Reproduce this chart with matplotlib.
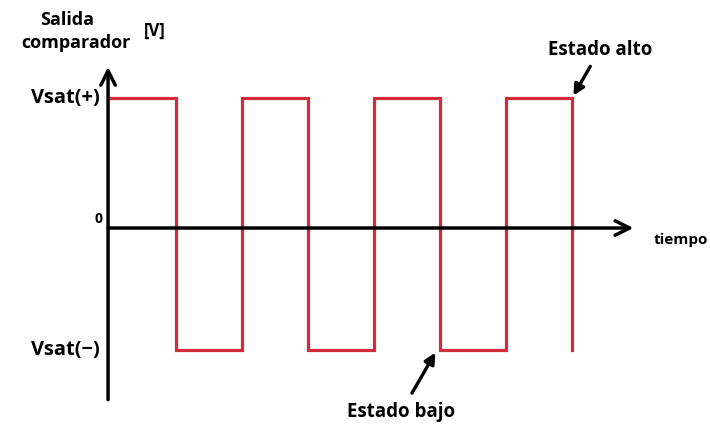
import matplotlib.pyplot as plt

# square wave of the comparator output (time in half-periods)
t_edges = [0, 1, 2, 3, 4, 5, 6, 7]
levels = [1.0, -0.94, 1.0, -0.94, 1.0, -0.94, 1.0]
v_high = 1.0
v_low = -0.94

plt.rcParams['font.family'] = ['Open Sans', 'DejaVu Sans']

fig = plt.figure(figsize=(7.1, 4.26), dpi=100)
ax = fig.add_axes([0, 0, 1, 1])
ax.set_xlim(-1.667, 9.09)
ax.set_ylim(-1.523, 1.754)
ax.axis('off')

red = '#d22c38'
tt = []
vv = []
for i, lv in enumerate(levels):
    tt += [t_edges[i], t_edges[i + 1]]
    vv += [lv, lv]
tt.append(t_edges[-1])
vv.append(v_low)
ax.plot(tt, vv, color=red, lw=2.3, solid_joinstyle='miter')

# axes with open arrow heads
ax.annotate('', xy=(-0.03, 1.24), xytext=(-0.03, -1.32),
            arrowprops=dict(arrowstyle='->', lw=2.5, color='black',
                            mutation_scale=26, shrinkA=0, shrinkB=0))
ax.annotate('', xy=(7.93, 0), xytext=(-0.03, 0),
            arrowprops=dict(arrowstyle='->', lw=2.5, color='black',
                            mutation_scale=26, shrinkA=0, shrinkB=0))

# labels
ax.text(-0.65, 1.6, 'Salida', ha='center', va='center', fontsize=13, fontweight='bold')
ax.text(-0.52, 1.42, 'comparador', ha='center', va='center', fontsize=13, fontweight='bold')
ax.text(0.67, 1.52, '[V]', ha='center', va='center', fontsize=12, fontweight='bold')
ax.text(-0.15, v_high, 'Vsat(+)', ha='right', va='center', fontsize=14.5, fontweight='bold')
ax.text(-0.15, v_low, 'Vsat(\u2212)', ha='right', va='center', fontsize=14.5, fontweight='bold')
ax.text(-0.12, 0.07, '0', ha='right', va='center', fontsize=10, fontweight='bold')
ax.text(8.65, -0.09, 'tiempo', ha='center', va='center', fontsize=11, fontweight='bold')

ax.annotate('Estado alto', xy=(7.0, v_high), xytext=(7.42, 1.37),
            ha='center', va='center', fontsize=13.5, fontweight='bold',
            arrowprops=dict(arrowstyle='-|>', lw=2.4, color='black',
                            mutation_scale=16, shrinkA=3, shrinkB=2))
ax.annotate('Estado bajo', xy=(4.95, v_low), xytext=(4.41, -1.415),
            ha='center', va='center', fontsize=13.5, fontweight='bold',
            arrowprops=dict(arrowstyle='-|>', lw=2.4, color='black',
                            mutation_scale=16, shrinkA=5, shrinkB=2))

fig.savefig('out.png', dpi=100)
